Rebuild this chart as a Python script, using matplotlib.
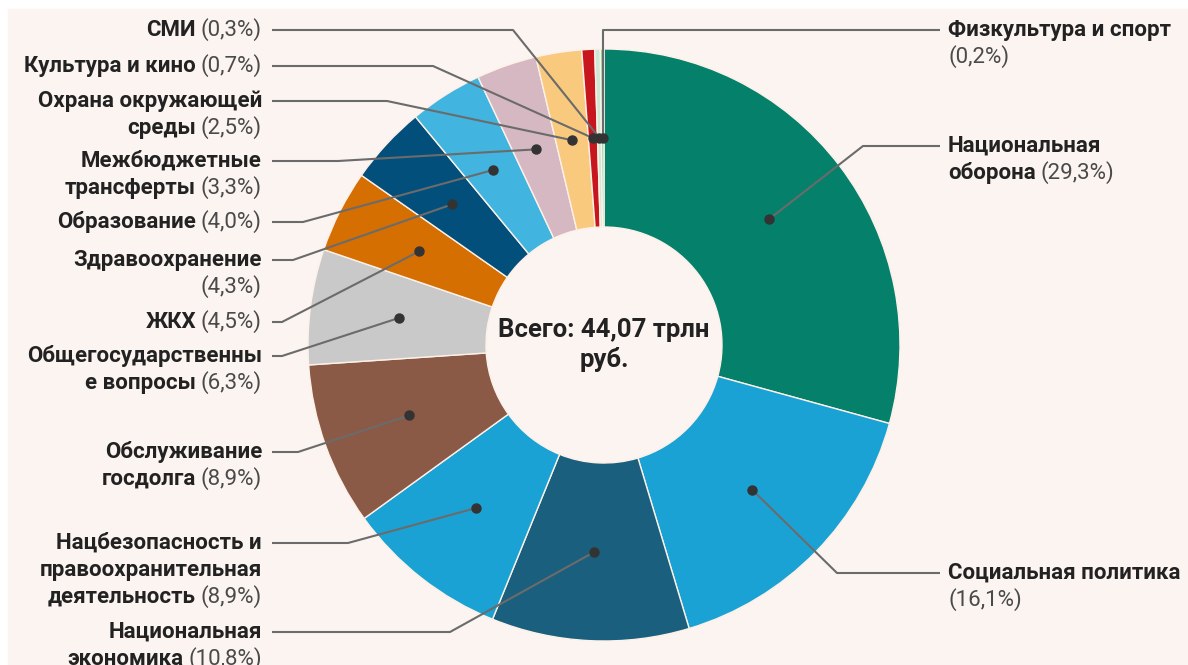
"""
donut chart: federal budget spending structure with leader-line labels
"""
import numpy as np
import matplotlib.pyplot as plt
from matplotlib.patches import Rectangle

plt.rcParams['font.family'] = ['Roboto', 'DejaVu Sans']

# spending categories, clockwise from the top
names = ['Национальная\nоборона',
         'Социальная политика\n',
         'Национальная\nэкономика',
         'Нацбезопасность и\nправоохранительная\nдеятельность',
         'Обслуживание\nгосдолга',
         'Общегосударственны\nе вопросы',
         'ЖКХ',
         'Здравоохранение\n',
         'Образование',
         'Межбюджетные\nтрансферты',
         'Охрана окружающей\nсреды',
         'Культура и кино',
         'СМИ',
         'Физкультура и спорт\n']
shares = [29.3, 16.1, 10.8, 8.9, 8.9, 6.3, 4.5, 4.3, 4.0, 3.3, 2.5, 0.7, 0.3, 0.2]
colors = ['#05806a', '#1ba2d4', '#1b5f7e', '#1ba2d4', '#8b5a47', '#c9c9c9',
          '#d56f02', '#024f7b', '#41b4df', '#d6b8c3', '#f9c97e', '#c8161e',
          '#cfe8d5', '#8fd6a8']
total_text = 'Всего: 44,07 трлн\nруб.'

# label placement (pixels from the top-left corner)
side = ['right', 'right', 'left', 'left', 'left', 'left', 'left', 'left',
        'left', 'left', 'left', 'left', 'left', 'right']
label_y = [146, 573, 632, 543, 452, 356, 322, 260, 222, 161, 101, 66, 30, 30]
elbow_x = [863, 837, 450, 348, 298, 282, 282, 293, 303, 338, 387, 433, 513, None]

W, H = 1188, 665
cx, cy = 604, 345          # centre of the ring
R, r_in = 296, 118
LINE = 26.8
FS = 16
bg = '#fbf4f1'
txt_c = '#222222'
pct_c = '#4a4a4a'

fig = plt.figure(figsize=(W / 100, H / 100), dpi=100)
fig.patch.set_facecolor('white')
ax = fig.add_axes([0, 0, 1, 1])
ax.add_patch(Rectangle((8, 0), W - 8, H - 9, color=bg, zorder=0))

wedges, _ = ax.pie(shares, colors=colors, startangle=90, counterclock=False,
                   radius=R, center=(cx, H - cy),
                   wedgeprops=dict(width=R - r_in, edgecolor='#fdf1e8', linewidth=1.0))
ax.set_xlim(0, W)
ax.set_ylim(0, H)
ax.set_aspect('auto')
ax.axis('off')

ax.text(cx, H - cy, total_text, ha='center', va='center', fontsize=18.5,
        fontweight='bold', color=txt_c, linespacing=1.3, zorder=5)

rend = fig.canvas.get_renderer()


def put_label(x, y, text, pct, where):
    lines = text.split('\n')
    for i, line in enumerate(lines):
        yy = H - (y + i * LINE)
        last = i == len(lines) - 1
        if where == 'left':
            xr = x
            if last:
                t = ax.text(xr, yy, pct, ha='right', va='center', fontsize=FS, color=pct_c)
                xr -= t.get_window_extent(renderer=rend).width + 5
            if line:
                ax.text(xr, yy, line, ha='right', va='center', fontsize=FS,
                        fontweight='bold', color=txt_c)
        else:
            xl = x
            if line:
                t = ax.text(xl, yy, line, ha='left', va='center', fontsize=FS,
                            fontweight='bold', color=txt_c)
                xl += t.get_window_extent(renderer=rend).width + 5
            if last:
                ax.text(xl, yy, pct, ha='left', va='center', fontsize=FS, color=pct_c)


for w, name, v, s, ly, ex in zip(wedges, names, shares, side, label_y, elbow_x):
    th = np.deg2rad((w.theta1 + w.theta2) / 2)
    dx = cx + 0.7 * R * np.cos(th)
    dy = (H - cy) + 0.7 * R * np.sin(th)
    if ex is None:
        ex = dx
    pct = '({:.1f}%)'.format(v).replace('.', ',')
    if s == 'left':
        x0, xt = 272, 262
    else:
        x0, xt = 940, 948
    ax.plot([x0, ex, dx], [H - ly, H - ly, dy], color='#6b6b6b', lw=1.5,
            solid_capstyle='butt', zorder=6)
    ax.plot(dx, dy, 'o', color='#333333', ms=6.5, zorder=7)
    put_label(xt, ly, name, pct, s)

fig.savefig('out.png', dpi=100, facecolor=fig.get_facecolor())
